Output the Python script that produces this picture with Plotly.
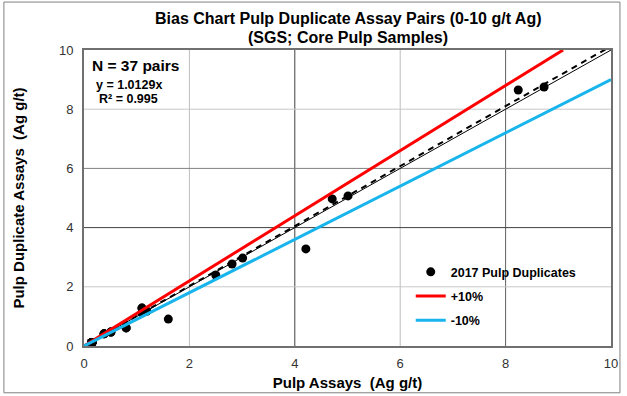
import plotly.graph_objects as go

# Data (37 pairs, many overlap near the origin)
pulp_assays = [0.15, 0.15, 0.15, 0.15, 0.15, 0.15, 0.15, 0.15, 0.15, 0.15, 0.15, 0.15,
               0.38, 0.38, 0.51, 0.51, 0.80, 0.80,
               1.10, 1.10, 1.19, 1.10, 1.19, 1.60, 2.50, 2.81, 3.01, 4.21, 4.71, 5.01,
               8.24, 8.73, 0.15, 0.15, 0.38, 0.51, 1.10]
pulp_duplicates = [0.12, 0.12, 0.12, 0.12, 0.12, 0.12, 0.12, 0.12, 0.12, 0.12, 0.12, 0.12,
                   0.41, 0.41, 0.47, 0.47, 0.61, 0.61,
                   1.28, 1.12, 1.18, 1.12, 1.18, 0.91, 2.40, 2.77, 2.97, 3.28, 4.97, 5.07,
                   8.65, 8.75, 0.12, 0.12, 0.41, 0.47, 1.28]
line_x = [0, 10]
trend_slope = 1.0129
plus_factor = 1.1
minus_factor = 0.9
tick_vals = [0, 2, 4, 6, 8, 10]

font = "Liberation Sans, Arial, sans-serif"
fig = go.Figure()

# 1:1 line
fig.add_trace(go.Scatter(x=line_x, y=[v for v in line_x], mode="lines",
                         line=dict(color="black", width=1), showlegend=False, hoverinfo="skip"))
# trend line
fig.add_trace(go.Scatter(x=line_x, y=[trend_slope * v for v in line_x], mode="lines",
                         line=dict(color="black", width=2, dash="6px,5px"), showlegend=False,
                         hoverinfo="skip"))
fig.add_trace(go.Scatter(x=pulp_assays, y=pulp_duplicates, mode="markers",
                         name="<b>2017 Pulp Duplicates</b>", legendgroup="a",
                         marker=dict(color="black", size=9)))
fig.add_trace(go.Scatter(x=[0, 10 / plus_factor], y=[0, 10], mode="lines", name="<b>+10%</b>",
                         legendgroup="b", line=dict(color="#FF0000", width=3)))
fig.add_trace(go.Scatter(x=line_x, y=[minus_factor * v for v in line_x], mode="lines",
                         name="<b>-10%</b>", legendgroup="c", line=dict(color="#18B4EC", width=3)))

shapes = []
grid_x = {2: "#bdbdbd", 4: "#404040", 6: "#bdbdbd", 8: "#606060"}
grid_y = {2: "#c8c8c8", 4: "#404040", 6: "#808080", 8: "#c8c8c8"}
for v, c in grid_x.items():
    shapes.append(dict(type="line", xref="x", yref="y", x0=v, x1=v, y0=0, y1=10,
                       line=dict(color=c, width=1), layer="below"))
for v, c in grid_y.items():
    shapes.append(dict(type="line", xref="x", yref="y", x0=0, x1=10, y0=v, y1=v,
                       line=dict(color=c, width=1), layer="below"))
# outer chart border
shapes.append(dict(type="rect", xref="paper", yref="paper", x0=-0.152, x1=1.017, y0=-0.158, y1=1.162,
                   line=dict(color="#808080", width=1)))

fig.update_layout(
    width=627, height=396,
    margin=dict(l=84, r=16, t=50, b=50, autoexpand=False),
    paper_bgcolor="white", plot_bgcolor="white",
    font=dict(family=font, color="#222"),
    xaxis=dict(range=[0, 10], tickvals=tick_vals, showgrid=False, zeroline=False,
               showline=True, linecolor="#707070", linewidth=2, mirror=True, automargin=False,
               ticks="", tickfont=dict(size=13, color="#333"), ticklabelstandoff=4,
               title=dict(text="<b>Pulp Assays  (Ag g/t)</b>", font=dict(size=15, color="black"), standoff=8)),
    yaxis=dict(range=[0, 10], tickvals=tick_vals, showgrid=False, zeroline=False,
               showline=True, linecolor="#707070", linewidth=2, mirror=True, automargin=False,
               ticks="", tickfont=dict(size=13, color="#333"), ticklabelstandoff=6,
               title=dict(text="<b>Pulp Duplicate Assays  (Ag g/t)</b>", font=dict(size=15, color="black"), standoff=31)),
    legend=dict(x=0.62, y=0.30, xanchor="left", yanchor="top", bgcolor="rgba(0,0,0,0)",
                font=dict(size=12.5, color="black"), tracegroupgap=5, traceorder="grouped"),
    shapes=shapes,
    annotations=[
        dict(text="<b>Bias Chart Pulp Duplicate Assay Pairs (0-10 g/t Ag)</b>", xref="paper", yref="paper",
             x=0.5, y=1.0 + 31 / 296, xanchor="center", yanchor="middle", showarrow=False,
             font=dict(size=16, color="black")),
        dict(text="<b>(SGS; Core Pulp Samples)</b>", xref="paper", yref="paper",
             x=0.5, y=1.0 + 12 / 296, xanchor="center", yanchor="middle", showarrow=False,
             font=dict(size=16, color="black")),
        dict(text="<b>N = 37 pairs</b>", xref="paper", yref="paper", x=6 / 527, y=1 - 15 / 296,
             xanchor="left", yanchor="middle", showarrow=False, font=dict(size=15.5, color="black")),
        dict(text="<b>y = 1.0129x</b>", xref="paper", yref="paper", x=10 / 527, y=1 - 35 / 296,
             xanchor="left", yanchor="middle", showarrow=False, font=dict(size=12.5, color="black")),
        dict(text="<b>R² = 0.995</b>", xref="paper", yref="paper", x=13 / 527, y=1 - 49 / 296,
             xanchor="left", yanchor="middle", showarrow=False, font=dict(size=12.5, color="black")),
    ],
)

fig.write_html("out.html", config={"displayModeBar": False},
               post_script="document.body.style.margin='0';")
